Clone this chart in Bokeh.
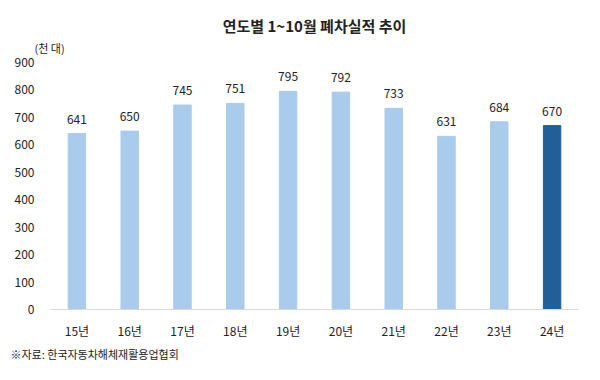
from bokeh.plotting import figure
from bokeh.models import ColumnDataSource, LabelSet, FixedTicker, Title
from bokeh.core.properties import value
from bokeh.embed import file_html
from bokeh.resources import INLINE

years = ["15년", "16년", "17년", "18년", "19년", "20년", "21년", "22년", "23년", "24년"]
values = [641, 650, 745, 751, 795, 792, 733, 631, 684, 670]
colors = ["#A9CBEC"] * 9 + ["#225E98"]
y_ticks = [0, 100, 200, 300, 400, 500, 600, 700, 800, 900]

title_text = "연도별 1~10월 폐차실적 추이"
unit_text = "(천 대)"
source_text = "※자료: 한국자동차해체재활용업협회"

FONT = "Noto Sans CJK KR"

src = ColumnDataSource(dict(x=years, top=values, color=colors,
                            label=[str(v) for v in values]))

p = figure(x_range=years, y_range=(0, 900), width=584, height=364,
           output_backend="svg", toolbar_location=None,
           min_border_left=50, min_border_right=6,
           min_border_top=62, min_border_bottom=4)

p.vbar(x="x", top="top", width=0.33, color="color", source=src)

labels = LabelSet(x="x", y="top", text="label", source=src, y_offset=10,
                  text_align="center", text_baseline="bottom",
                  text_font=value(FONT), text_font_size="12px", text_color="#222222")
p.add_layout(labels)

p.outline_line_color = None
p.xgrid.grid_line_color = None
p.ygrid.grid_line_color = None
p.background_fill_color = "white"
p.border_fill_color = "white"

p.yaxis.ticker = FixedTicker(ticks=y_ticks)
p.yaxis.axis_line_color = None
p.yaxis.major_tick_line_color = None
p.yaxis.minor_tick_line_color = None
p.yaxis.major_tick_out = 0
p.yaxis.major_tick_in = 0
p.yaxis.minor_tick_out = 0
p.yaxis.major_label_standoff = 16
p.yaxis.major_label_text_font = FONT
p.yaxis.major_label_text_font_size = "12px"
p.yaxis.major_label_text_color = "#222222"

p.xaxis.axis_line_color = "#D9D9D9"
p.xaxis.major_tick_line_color = None
p.xaxis.minor_tick_line_color = None
p.xaxis.major_tick_out = 0
p.xaxis.major_tick_in = 0
p.xaxis.major_label_standoff = 12
p.xaxis.major_label_text_font = FONT
p.xaxis.major_label_text_font_size = "12px"
p.xaxis.major_label_text_color = "#222222"

p.title.text = title_text
p.title.align = "center"
p.title.standoff = -10
p.title.text_font = FONT
p.title.text_font_size = "15px"
p.title.text_font_style = "bold"
p.title.text_color = "#222222"

unit = Title(text=unit_text, align="left", offset=-16, standoff=14, text_font=FONT,
             text_font_size="11px", text_font_style="normal", text_color="#222222")
p.add_layout(unit, "above")

src_title = Title(text=source_text, align="left", offset=-40, standoff=5, text_font=FONT,
                  text_font_size="11px", text_font_style="normal", text_color="#222222")
p.add_layout(src_title, "below")

open("out.html", "w").write(file_html(p, INLINE))
